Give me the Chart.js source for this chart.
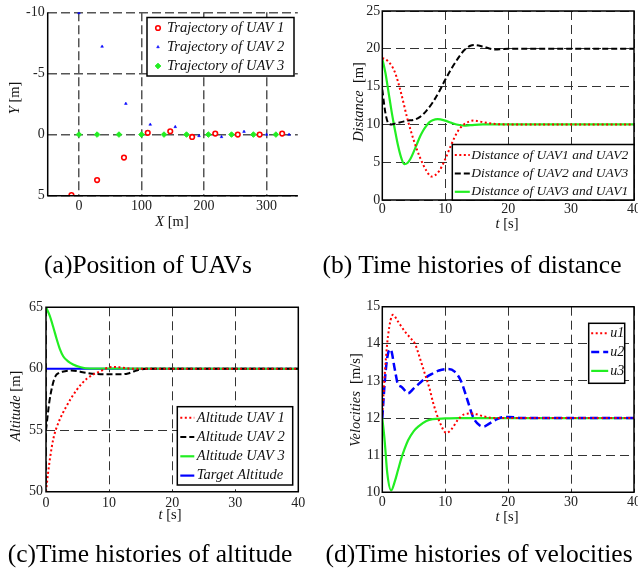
<!DOCTYPE html>
<html>
<head>
<meta charset="utf-8">
<script src="https://cdn.jsdelivr.net/npm/chart.js@4.4.1/dist/chart.umd.min.js"></script>
<style>
  html, body { margin: 0; padding: 0; background: #fff; width: 638px; height: 569px; overflow: hidden; }
  canvas { position: absolute; left: 0; top: 0; }
  .t { position: absolute; font-family: "Liberation Serif", "Times New Roman", serif; color: #111;
       white-space: nowrap; transform: translate(-50%, -50%); font-size: 14.5px; line-height: 1; }
  .r { transform: translate(-50%, -50%) rotate(-90deg); }
  .cap { font-size: 25.5px; color: #000; }
</style>
</head>
<body>
<canvas id="chartA" width="660" height="569"></canvas>
<canvas id="chartB" width="660" height="569"></canvas>
<canvas id="chartC" width="660" height="569"></canvas>
<canvas id="chartD" width="660" height="569"></canvas>

<!-- axis titles -->
<div class="t" style="left:172px;top:221px"><i>X</i> [m]</div>
<div class="t r" style="left:14px;top:98px"><i>Y</i> [m]</div>
<div class="t" style="left:507px;top:223px"><i>t</i> [s]</div>
<div class="t r" style="left:358px;top:102px"><i>Distance</i>&nbsp; [m]</div>
<div class="t" style="left:170px;top:514px"><i>t</i> [s]</div>
<div class="t r" style="left:15px;top:406px"><i>Altitude</i> [m]</div>
<div class="t" style="left:507px;top:516px"><i>t</i> [s]</div>
<div class="t r" style="left:355px;top:400px"><i>Velocities</i>&nbsp; [m/s]</div>

<!-- captions -->
<div class="t cap" style="left:148px;top:265px">(a)Position of UAVs</div>
<div class="t cap" style="left:472px;top:265px">(b) Time histories of distance</div>
<div class="t cap" style="left:150px;top:554px">(c)Time histories of altitude</div>
<div class="t cap" style="left:479px;top:554px">(d)Time histories of velocities</div>

<script>
const FONT = '"Liberation Serif", "Times New Roman", serif';

// (a) positions of the three UAVs
const uav1X = [-12, 29, 72, 110, 146, 181, 218, 254, 289, 325];
const uav1Y = [4.95, 3.72, 1.88, -0.14, -0.27, 0.19, -0.08, 0, 0, -0.08];
const uav2X = [0, 37, 75, 114, 154, 192, 228, 264, 300, 336];
const uav2Y = [-9.95, -7.2, -2.53, -0.82, -0.63, 0.11, 0.19, -0.24, 0, 0];
const uav3X = [0, 29, 64, 100, 136, 172, 207, 244, 279, 315];
const uav3Y = [0, 0, 0, 0, 0, 0, 0, 0, 0, 0];

// (b) distances
const tD12 = [0, 1, 2, 3, 4, 5, 6, 7, 7.8, 9, 10, 11, 12, 13, 14.5, 16, 18, 20, 40];
const d12  = [18.8, 18.3, 16.9, 14.1, 10.7, 7.9, 5.6, 3.9, 3.1, 3.8, 5.4, 7.4, 9.1, 10.0, 10.5, 10.3, 10.05, 10, 10];
const tD23 = [0, 0.5, 1, 1.5, 2, 3, 4, 5, 6, 7, 8, 9, 10, 11, 12, 13, 14, 14.7, 16, 17, 18, 19, 20, 40];
const d23  = [14.6, 11.5, 10.1, 10.0, 10.1, 10.3, 10.5, 10.6, 11.0, 11.8, 12.9, 14.3, 15.9, 17.4, 18.7, 19.8, 20.4, 20.5, 20.3, 20.05, 19.9, 19.95, 20, 20];
const tD31 = [0, 0.5, 1, 1.5, 2, 2.5, 3, 3.5, 4, 4.5, 5, 5.5, 6, 6.5, 7, 7.5, 8, 8.8, 10, 11, 12, 13, 14, 16, 18, 40];
const d31  = [18.7, 16.8, 14.2, 11.6, 9.3, 7.2, 5.6, 4.75, 4.9, 5.5, 6.4, 7.4, 8.4, 9.2, 9.8, 10.3, 10.55, 10.7, 10.5, 10.2, 9.95, 9.85, 9.9, 10, 10, 10];

// (c) altitudes
const tA1 = [0, 0.3, 0.63, 1.16, 1.96, 3.3, 4.9, 6.5, 8.6, 10.5, 12, 14, 16, 40];
const alt1 = [50, 51.4, 52.7, 54.3, 55.6, 57.0, 58.3, 59.2, 59.8, 60.15, 60.1, 60.0, 60, 60];
const tA2 = [0, 0.5, 1, 1.5, 2, 3, 4, 5, 6, 7, 8, 10, 12, 13, 14, 15, 16, 40];
const alt2 = [55, 57.2, 58.6, 59.4, 59.65, 59.8, 59.85, 59.8, 59.7, 59.62, 59.58, 59.55, 59.55, 59.62, 59.8, 59.95, 60, 60];
const tA3 = [0, 0.6, 1.2, 1.7, 2.2, 2.75, 3.5, 4.3, 5.5, 7, 40];
const alt3 = [65, 64.3, 63.3, 62.4, 61.6, 61.0, 60.6, 60.35, 60.12, 60.02, 60];
const tTarget = [0, 40];
const altTarget = [60, 60];

// (d) velocities
const tU1 = [0, 0.4, 0.9, 1.7, 2.5, 3.5, 4.5, 5.2, 6, 6.75, 7.5, 8.1, 9.1, 10.2, 11, 12, 13, 14, 15, 16, 18, 20, 40];
const u1  = [12.1, 13.2, 14.2, 14.78, 14.6, 14.35, 14.15, 14.0, 13.6, 13.2, 12.8, 12.4, 11.9, 11.6, 11.7, 11.95, 12.1, 12.12, 12.1, 12.05, 12.0, 12.0, 12.0];
const tU2 = [0, 0.5, 1, 1.3, 2, 2.5, 3, 4.1, 5, 6, 7, 8, 9, 10.5, 11.5, 12.5, 13.5, 14.5, 15.5, 16.1, 17, 18, 19, 20, 21, 22, 40];
const u2  = [12, 13.2, 13.8, 13.85, 13.3, 12.9, 12.85, 12.67, 12.8, 12.95, 13.1, 13.2, 13.28, 13.32, 13.25, 13.0, 12.5, 12.0, 11.8, 11.77, 11.85, 11.95, 12.02, 12.03, 12.02, 12, 12];
const tU3 = [0, 0.37, 0.8, 1.4, 2, 2.5, 3, 4.1, 5, 5.7, 7, 8, 10, 12, 40];
const u3  = [12, 11.4, 10.5, 10.05, 10.3, 10.6, 10.9, 11.4, 11.65, 11.77, 11.92, 11.97, 11.99, 12, 12];

// tick values
const xTicksA = [0, 100, 200, 300];
const yTicksA = [-10, -5, 0, 5];
const tTicks = [0, 10, 20, 30, 40];
const distTicks = [0, 5, 10, 15, 20, 25];
const altTicks = [50, 55, 60, 65];
const velTicks = [10, 11, 12, 13, 14, 15];

const RED = '#ff0000', BLUE = '#0000ff', GREEN = '#22ee22', BLACK = '#000000';
const W = 660, H = 569;

const pts = (xs, ys) => xs.map((x, i) => ({ x: x, y: ys[i] }));

// frame around the plot area + boxed legend inside it
const frameLegend = {
  id: 'frameLegend',
  afterDatasetsDraw(chart, args, opts) {
    const ctx = chart.ctx, a = chart.chartArea;
    ctx.save();
    ctx.setLineDash([]);
    ctx.strokeStyle = '#000';
    ctx.lineWidth = 1.5;
    ctx.beginPath();
    if (opts.box) {
      ctx.rect(a.left, a.top, a.right - a.left, a.bottom - a.top);
    } else {
      ctx.moveTo(a.left, a.top);
      ctx.lineTo(a.left, a.bottom);
      ctx.lineTo(a.right, a.bottom);
    }
    ctx.stroke();

    const L = opts.legend;
    if (L) {
      ctx.fillStyle = '#fff';
      ctx.fillRect(L.x, L.y, L.w, L.h);
      ctx.lineWidth = 1.5;
      ctx.strokeRect(L.x, L.y, L.w, L.h);
      ctx.font = 'italic ' + L.size + 'px ' + FONT;
      ctx.textBaseline = 'middle';
      chart.data.datasets.forEach((ds, i) => {
        const y = L.y + L.first + i * L.step;
        ctx.save();
        if (ds.showLine === false) {
          ctx.fillStyle = ds.backgroundColor;
          ctx.strokeStyle = ds.borderColor;
          ctx.lineWidth = ds.borderWidth;
          Chart.helpers.drawPoint(ctx, {
            pointStyle: ds.pointStyle, radius: ds.pointRadius, rotation: 0, borderWidth: ds.borderWidth
          }, L.x + L.s0, y);
        } else {
          ctx.strokeStyle = ds.borderColor;
          ctx.lineWidth = ds.borderWidth;
          ctx.setLineDash(ds.borderDash || []);
          ctx.beginPath();
          ctx.moveTo(L.x + L.s0, y);
          ctx.lineTo(L.x + L.s1, y);
          ctx.stroke();
        }
        ctx.restore();
        ctx.fillStyle = '#111';
        ctx.fillText(ds.label, L.x + L.tx, y);
      });
    }
    ctx.restore();
  }
};

function axis(min, max, ticks, o) {
  return {
    type: 'linear',
    min: min,
    max: max,
    reverse: !!o.reverse,
    afterBuildTicks: s => { s.ticks = ticks.map(v => ({ value: v })); },
    afterFit: s => { if (s.isHorizontal()) s.height = 30; else s.width = 40; },
    grid: { color: o.gridColor || '#333', lineWidth: o.gridWidth || 1, drawTicks: false },
    border: { display: false, dash: o.dash || [9, 5] },
    ticks: {
      padding: o.pad,
      color: '#222',
      autoSkip: false,
      maxRotation: 0,
      font: { family: FONT, size: 14 }
    }
  };
}

function makeChart(id, datasets, area, xAxis, yAxis, box, legend) {
  return new Chart(document.getElementById(id), {
    type: 'line',
    data: { datasets: datasets },
    options: {
      responsive: false,
      animation: false,
      devicePixelRatio: 1,
      layout: {
        padding: { left: area.l - 40, top: area.t, right: W - area.r, bottom: H - area.b - 30 }
      },
      elements: { point: { radius: 0 }, line: { cubicInterpolationMode: 'monotone' } },
      plugins: {
        legend: { display: false },
        tooltip: { enabled: false },
        frameLegend: { box: box, legend: legend }
      },
      scales: { x: xAxis, y: yAxis }
    },
    plugins: [frameLegend]
  });
}

const lineDs = (label, xs, ys, color, width, dash) => ({
  label: label, data: pts(xs, ys), borderColor: color, backgroundColor: color,
  borderWidth: width, borderDash: dash, pointRadius: 0, fill: false
});

const markDs = (label, xs, ys, style, r, fill, stroke, bw) => ({
  label: label, data: pts(xs, ys), showLine: false, pointStyle: style, pointRadius: r,
  backgroundColor: fill, borderColor: stroke, borderWidth: bw,
  pointBackgroundColor: fill, pointBorderColor: stroke, pointBorderWidth: bw
});

// (a)
makeChart('chartA', [
  markDs('Trajectory of UAV 1', uav1X, uav1Y, 'circle', 2.3, '#fff', RED, 1.6),
  markDs('Trajectory of UAV 2', uav2X, uav2Y, 'triangle', 1.6, BLUE, BLUE, 0.5),
  markDs('Trajectory of UAV 3', uav3X, uav3Y, 'rectRot', 2.8, GREEN, GREEN, 1)
], { l: 47.7, t: 12.3, r: 297.8, b: 195.7 },
  axis(-50, 350, xTicksA, { pad: 2, gridColor: '#555', gridWidth: 1.5, dash: [9, 4] }),
  axis(-10, 5, yTicksA, { pad: 3, reverse: true, gridColor: '#555', gridWidth: 1.5, dash: [9, 4] }),
  false,
  { x: 147, y: 17.5, w: 147, h: 58.5, first: 10.5, step: 19, s0: 11, s1: 11, tx: 20, size: 14.5 });

// (b)
makeChart('chartB', [
  lineDs('Distance of UAV1 and UAV2', tD12, d12, RED, 2, [2, 2.5]),
  lineDs('Distance of UAV2 and UAV3', tD23, d23, BLACK, 2, [6, 3]),
  lineDs('Distance of UAV3 and UAV1', tD31, d31, GREEN, 2.2, [])
], { l: 382.3, t: 11, r: 634, b: 200 },
  axis(0, 40, tTicks, { pad: 1 }),
  axis(0, 25, distTicks, { pad: 2 }),
  true,
  { x: 452.3, y: 144.5, w: 181.7, h: 55.5, first: 10.5, step: 18.4, s0: 2.5, s1: 17.5, tx: 19, size: 13.5 });

// (c)
makeChart('chartC', [
  lineDs('Altitude UAV 1', tA1, alt1, RED, 2, [2, 2.5]),
  lineDs('Altitude UAV 2', tA2, alt2, BLACK, 2, [6, 3]),
  lineDs('Altitude UAV 3', tA3, alt3, GREEN, 2.2, []),
  lineDs('Target Altitude', tTarget, altTarget, BLUE, 2.2, [])
], { l: 46, t: 307.3, r: 298.3, b: 491.7 },
  axis(0, 40, tTicks, { pad: 3 }),
  axis(50, 65, altTicks, { pad: 3 }),
  true,
  { x: 177.3, y: 406.7, w: 115.4, h: 78.3, first: 11, step: 19.3, s0: 3, s1: 17, tx: 19.5, size: 14.5 });

// (d)
makeChart('chartD', [
  lineDs('u1', tU1, u1, RED, 2, [2, 2.5]),
  lineDs('u2', tU2, u2, BLUE, 2.5, [8, 4]),
  lineDs('u3', tU3, u3, GREEN, 2.2, [])
], { l: 382.3, t: 306.7, r: 634, b: 492.3 },
  axis(0, 40, tTicks, { pad: 2 }),
  axis(10, 15, velTicks, { pad: 2 }),
  true,
  { x: 588.7, y: 323.3, w: 36, h: 60, first: 10, step: 18.8, s0: 2.5, s1: 19.5, tx: 21.5, size: 14 });
</script>
</body>
</html>
